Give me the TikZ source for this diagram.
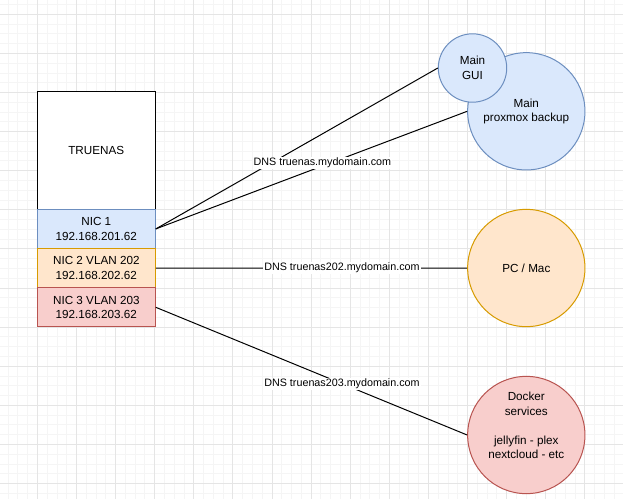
\documentclass[tikz,border=0pt]{standalone}
\usepackage{fontspec}
\setmainfont{Liberation Sans}
\usetikzlibrary{positioning}

\definecolor{bluefill}{HTML}{DAE8FC}
\definecolor{bluedraw}{HTML}{6C8EBF}
\definecolor{orangefill}{HTML}{FFE6CC}
\definecolor{orangedraw}{HTML}{D79B00}
\definecolor{redfill}{HTML}{F8CECC}
\definecolor{reddraw}{HTML}{B85450}

\begin{document}
\begin{tikzpicture}[x=1pt, y=-1pt, line width=1pt,
  every node/.style={font=\fontsize{11.7}{14.5}\selectfont, align=center},
  nicbox/.style={draw, minimum width=118pt, minimum height=39.2pt, inner sep=0pt},
  host/.style={circle, draw, inner sep=0pt, minimum size=117.3pt},
  dnslabel/.style={fill=white, inner sep=1pt, font=\fontsize{10.75}{13}\selectfont},
  gridminor/.style={line width=0.7pt, black!4},
  gridmajor/.style={line width=0.7pt, black!10}]

\useasboundingbox (0,0) rectangle (623,499);
\fill[white] (0,0) rectangle (623,499);

% ---- Background grid ----
\foreach \i in {-3,...,59} {
  \pgfmathsetmacro{\gx}{37.3+9.775*\i}
  \draw[gridminor] (\gx,0) -- (\gx,499);
}
\foreach \i in {-5,...,45} {
  \pgfmathsetmacro{\gy}{53.3+9.775*\i}
  \draw[gridminor] (0,\gy) -- (623,\gy);
}
\foreach \i in {0,...,15} {
  \pgfmathsetmacro{\gx}{37.3+39.1*\i}
  \draw[gridmajor] (\gx,0) -- (\gx,499);
}
\foreach \i in {-1,...,11} {
  \pgfmathsetmacro{\gy}{53.3+39.1*\i}
  \draw[gridmajor] (0,\gy) -- (623,\gy);
}

% ---- TrueNAS box with its NICs ----
\node[draw, fill=white, minimum width=118pt, minimum height=117.6pt, inner sep=0pt] (truenas) at (96.3,150.5) {TRUENAS};
\node[nicbox, fill=bluefill, draw=bluedraw] (nicone) at (96.3,228.9) {NIC 1\\192.168.201.62};
\node[nicbox, fill=orangefill, draw=orangedraw] (nictwo) at (96.3,268.1) {NIC 2 VLAN 202\\192.168.202.62};
\node[nicbox, fill=redfill, draw=reddraw] (nicthree) at (96.3,307.3) {NIC 3 VLAN 203\\192.168.203.62};

% ---- Clients ----
\node[host, fill=bluefill, draw=bluedraw] (pbs) at (526.3,111.3) {Main\\proxmox backup};
\node[host, fill=bluefill, draw=bluedraw, minimum size=68.4pt] (gui) at (472.5,68) {Main\\GUI};
\node[host, fill=orangefill, draw=orangedraw] (pcmac) at (526.3,268) {PC / Mac};
\node[host, fill=redfill, draw=reddraw] (docker) at (526.3,435) {Docker\\services\\\\jellyfin - plex\\nextcloud - etc\\[5pt]\mbox{}};

% ---- Links ----
\draw (nicone.east) -- (gui.west);
\draw (nicone.east) -- node[dnslabel, pos=0.535, yshift=3pt] {DNS truenas.mydomain.com} (pbs.west);
\draw (nictwo.east) -- node[dnslabel, pos=0.598] {DNS truenas202.mydomain.com} (pcmac.west);
\draw (nicthree.east) -- node[dnslabel, pos=0.598] {DNS truenas203.mydomain.com} (docker.west);

\end{tikzpicture}
\end{document}
